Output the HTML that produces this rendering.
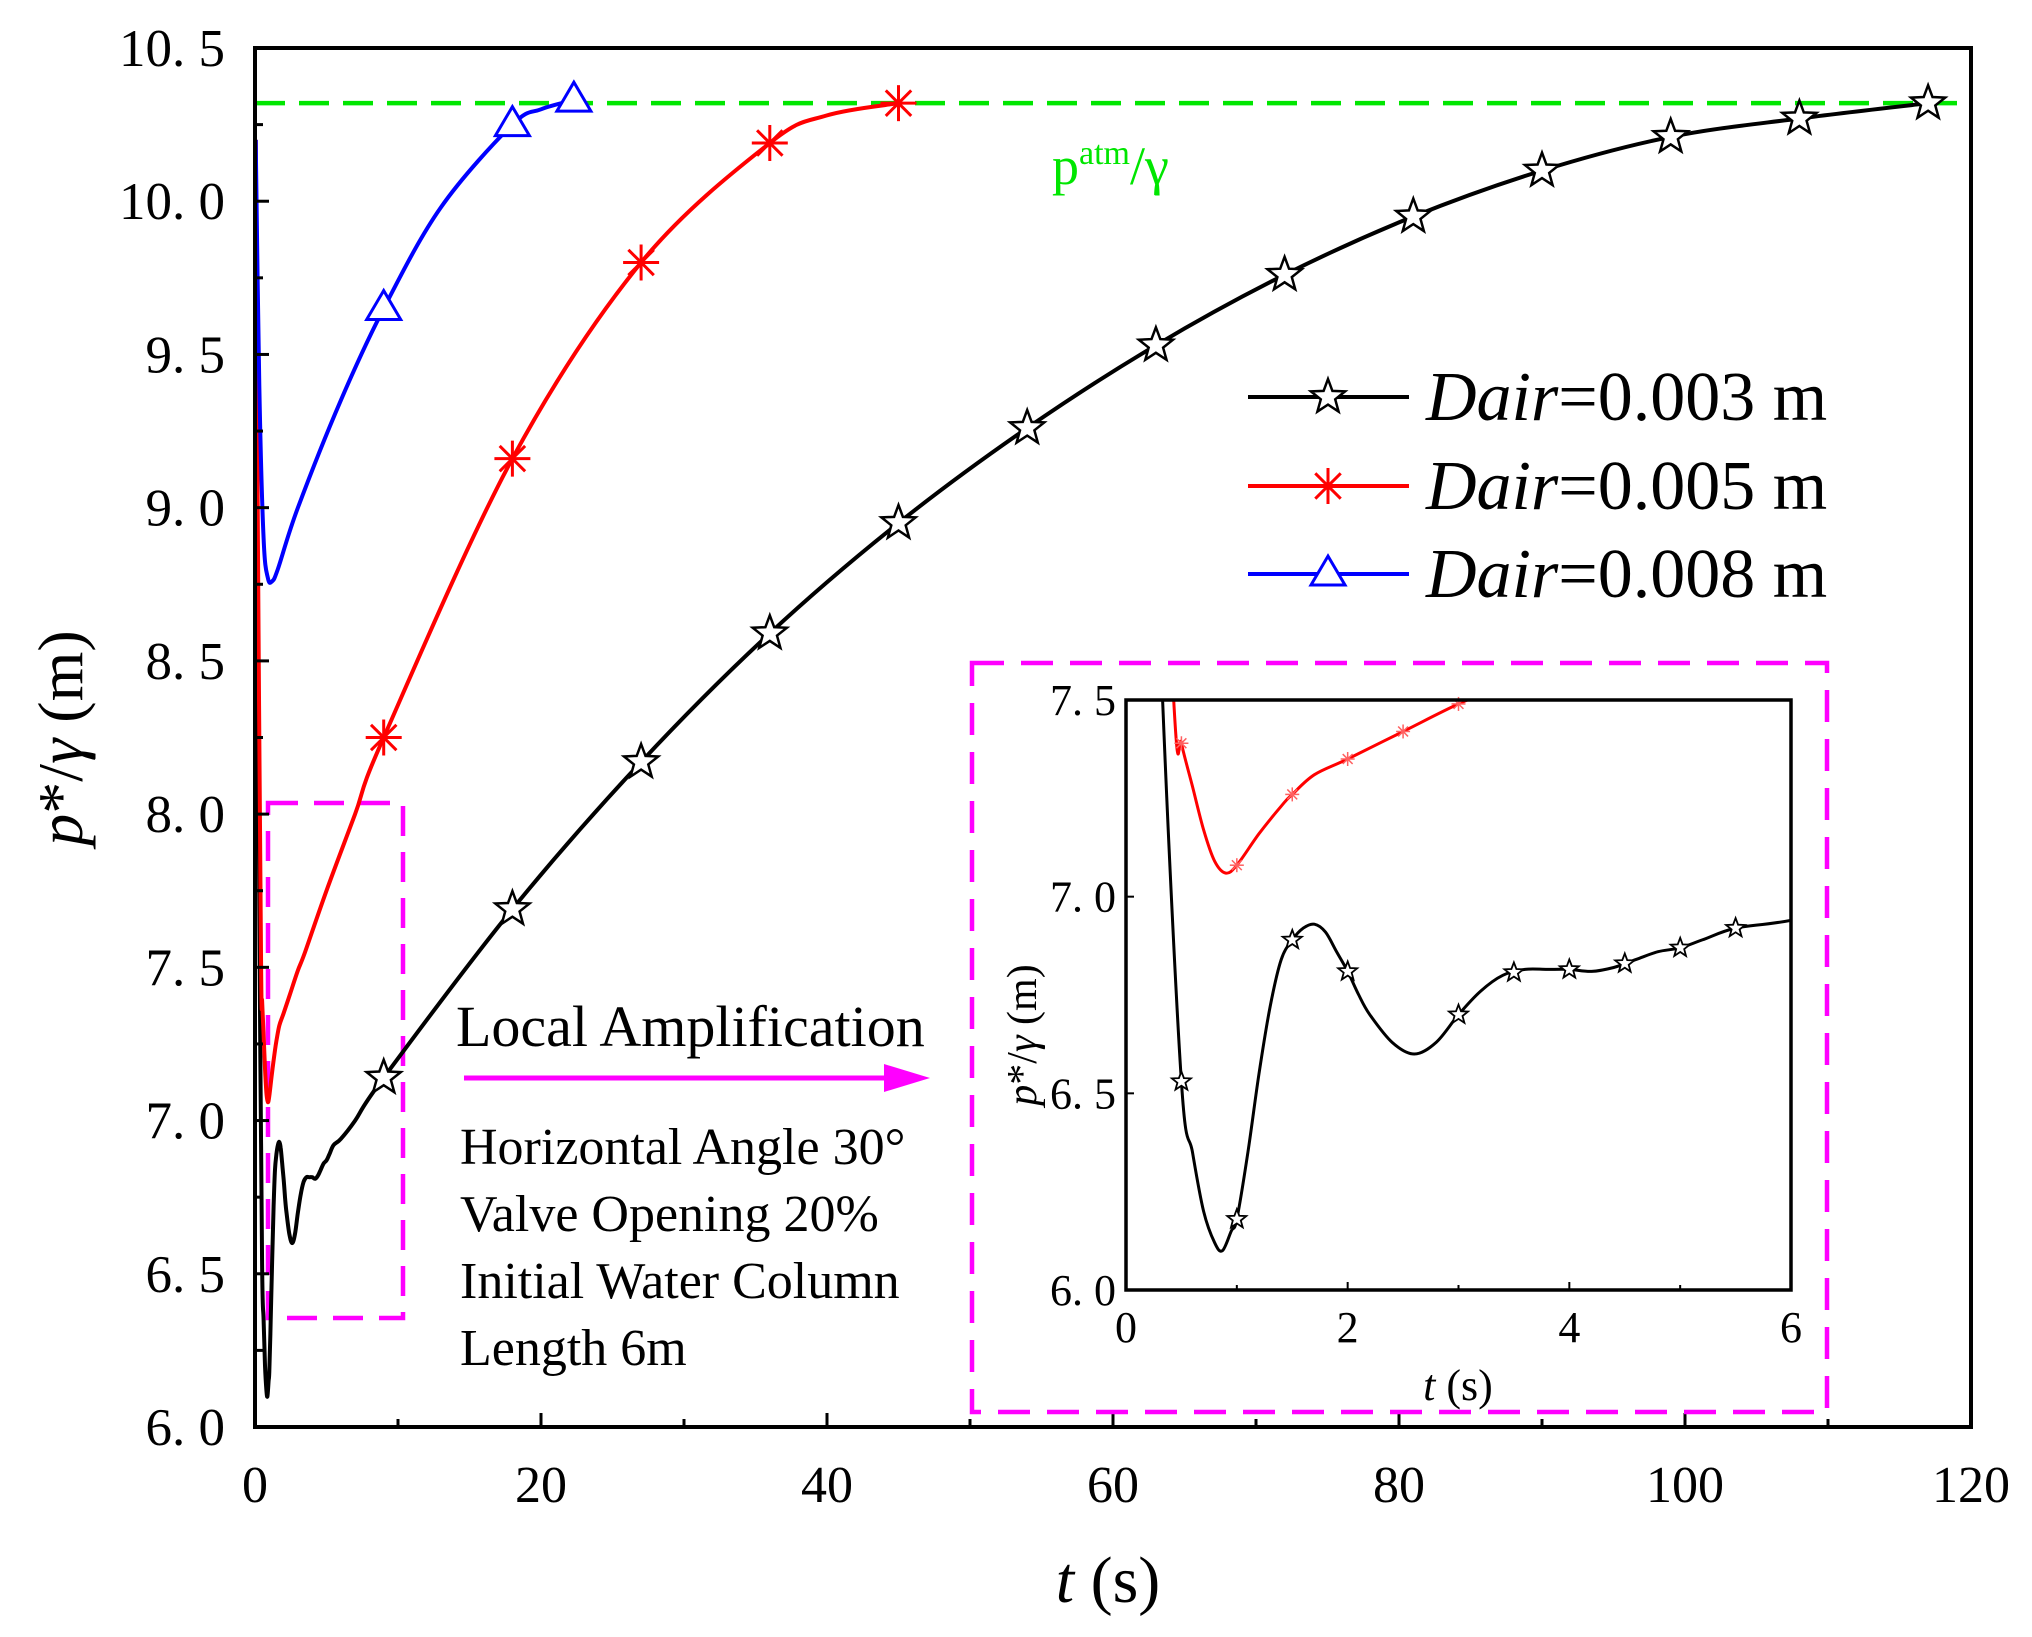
<!DOCTYPE html>
<html><head><meta charset="utf-8"><style>
html,body{margin:0;padding:0;background:#fff;}
svg{display:block;font-family:"Liberation Serif",serif;}
</style></head><body>
<svg id="chart" width="2032" height="1637" viewBox="0 0 2032 1637" xmlns="http://www.w3.org/2000/svg">
<rect x="0" y="0" width="2032" height="1637" fill="#fff"/>
<g id="main"></g>
<g id="inset"></g>
</svg>
<script>
// ---- data ----
const blackT = [0.05,0.2,0.33,0.5,0.6,0.7,0.8,0.87,0.95,1.0,1.1,1.2,1.3,1.4,1.5,1.6,1.7,1.8,1.9,2.0,2.1,2.2,2.4,2.6,2.8,3.0,3.2,3.4,3.6,3.8,4.0,4.2,4.4,4.6,4.8,5.0,5.2,5.5,6.0,7.0,9,18,27,36,45,54,63,72,81,90,99,108,117];
const blackP = [10.2,8.6,7.5,6.53,6.35,6.2,6.12,6.1,6.15,6.18,6.35,6.55,6.72,6.84,6.89,6.92,6.93,6.91,6.86,6.81,6.75,6.70,6.63,6.60,6.63,6.70,6.76,6.80,6.815,6.815,6.815,6.81,6.82,6.84,6.86,6.87,6.89,6.92,6.94,7.0,7.14,7.69,8.17,8.59,8.95,9.26,9.53,9.76,9.95,10.10,10.21,10.27,10.32];
const redT = [0.05,0.2,0.43,0.5,0.6,0.7,0.8,0.9,1.0,1.2,1.4,1.5,1.7,2.0,2.5,3.0,3.5,5,7,9,18,27,36,40,45];
const redP = [10.2,8.9,7.5,7.39,7.28,7.17,7.09,7.06,7.08,7.16,7.23,7.26,7.31,7.35,7.42,7.49,7.55,7.75,8.0,8.25,9.16,9.80,10.19,10.28,10.32];
const blueT = [0.05,0.3,0.6,0.9,1.2,1.6,3,6,9,13,18,20,22.3];
const blueP = [10.2,9.4,8.9,8.77,8.76,8.8,9.0,9.35,9.65,9.98,10.25,10.3,10.33];
const blackMarkT = [9,18,27,36,45,54,63,72,81,90,99,108,117];
const redMarkT = [9,18,27,36,45];
const blueMarkT = [9,18,22.3];
const insetBlackMarkT = [0.5,1.0,1.5,2.0,3.0,3.5,4.0,4.5,5.0,5.5];
const insetRedMarkT = [0.5,1.0,1.5,2.0,2.5,3.0];
const atmP = 10.32;
const xTicks = [0,20,40,60,80,100,120];
const xTickLabels = ["0","20","40","60","80","100","120"];
const yTicks = [6,6.5,7,7.5,8,8.5,9,9.5,10,10.5];
const yTickLabels = ["6. 0","6. 5","7. 0","7. 5","8. 0","8. 5","9. 0","9. 5","10. 0","10. 5"];
const insetXTicks = [0,2,4,6];
const insetXTickLabels = ["0","2","4","6"];
const insetYTicks = [6,6.5,7,7.5];
const insetYTickLabels = ["6. 0","6. 5","7. 0","7. 5"];

const NS="http://www.w3.org/2000/svg";
function mk(parent,tag,attrs){const e=document.createElementNS(NS,tag);for(const k in attrs)e.setAttribute(k,attrs[k]);parent.appendChild(e);return e;}
function interp(T,P,t){for(let i=0;i<T.length-1;i++){if(t>=T[i]&&t<=T[i+1]){const f=(t-T[i])/(T[i+1]-T[i]);return P[i]+f*(P[i+1]-P[i]);}}return P[P.length-1];}
function smoothPath(pts){let d="M"+pts[0][0].toFixed(1)+","+pts[0][1].toFixed(1);
 for(let i=0;i<pts.length-1;i++){const p0=pts[Math.max(i-1,0)],p1=pts[i],p2=pts[i+1],p3=pts[Math.min(i+2,pts.length-1)];
  const c1x=p1[0]+(p2[0]-p0[0])/6,c1y=p1[1]+(p2[1]-p0[1])/6,c2x=p2[0]-(p3[0]-p1[0])/6,c2y=p2[1]-(p3[1]-p1[1])/6;
  d+=" C"+c1x.toFixed(1)+","+c1y.toFixed(1)+" "+c2x.toFixed(1)+","+c2y.toFixed(1)+" "+p2[0].toFixed(1)+","+p2[1].toFixed(1);}
 return d;}
function star(g,cx,cy,r,sw){let pts=[];for(let i=0;i<10;i++){const a=-Math.PI/2+i*Math.PI/5,rr=i%2?r*0.42:r;pts.push((cx+rr*Math.cos(a)).toFixed(1)+","+(cy+rr*Math.sin(a)).toFixed(1));}
 return mk(g,"polygon",{points:pts.join(" "),fill:"#fff",stroke:"#000","stroke-width":sw});}
function asterisk(g,cx,cy,r,col,sw){const grp=mk(g,"g",{stroke:col,"stroke-width":sw});
 for(let i=0;i<4;i++){const a=i*Math.PI/4;mk(grp,"line",{x1:cx-r*Math.cos(a),y1:cy-r*Math.sin(a),x2:cx+r*Math.cos(a),y2:cy+r*Math.sin(a)});}return grp;}
function tri(g,cx,cy,r){const h=r*1.7;return mk(g,"polygon",{points:`${cx},${cy-h*0.62} ${cx-r},${cy+h*0.38} ${cx+r},${cy+h*0.38}`,fill:"#fff",stroke:"#0000ff","stroke-width":3});}

// ---- main axes ----
const X0=255,X1=1971,Y0=1427,Y1=48;
const xs=t=>X0+(t-0)/(120-0)*(X1-X0);
const ys=p=>Y0-(p-6)/(10.5-6)*(Y0-Y1);
const main=document.getElementById("main");
const mcp=mk(main,"clipPath",{id:"mclip"});mk(mcp,"rect",{x:X0,y:Y1,width:X1-X0,height:Y0-Y1});

let atm=mk(main,"line",{x1:X0,x2:X1,y1:ys(atmP),y2:ys(atmP),stroke:"#00e600","stroke-width":4.5,"stroke-dasharray":"30 14"});


let atmT=mk(main,"text",{x:1052,y:184,fill:"#00e600","font-size":54});
atmT.innerHTML='p<tspan dy="-20" font-size="34">atm</tspan><tspan dy="20">/γ</tspan>';



let sb=mk(main,"rect",{x:268,y:803,width:135,height:515,fill:"none",stroke:"#ff00ff","stroke-width":4.5,"stroke-dasharray":"30 16"});



const series=[{T:blackT,P:blackP,col:"#000",m:blackMarkT,type:"star",name:"black"},
{T:redT,P:redP,col:"#ff0000",m:redMarkT,type:"ast",name:"red"},
{T:blueT,P:blueP,col:"#0000ff",m:blueMarkT,type:"tri",name:"blue"}];
const names={black:"series-dair-0.003",red:"series-dair-0.005",blue:"series-dair-0.008"};
series.forEach(s=>{
 const pts=s.T.map((t,i)=>[xs(t),ys(s.P[i])]);
 let p=mk(main,"path",{d:smoothPath(pts),fill:"none",stroke:s.col,"stroke-width":4,"clip-path":"url(#mclip)"});
 
 
});
series.forEach(s=>{
 s.m.forEach(t=>{const cx=xs(t),cy=ys(interp(s.T,s.P,t));let e;
  if(s.type==="star")e=star(main,cx,cy,18,2.5);else if(s.type==="ast")e=asterisk(main,cx,cy,18,s.col,3);else e=tri(main,cx,cy,17);
  
  });
});

let fr=mk(main,"rect",{x:X0,y:Y1,width:X1-X0,height:Y0-Y1,fill:"none",stroke:"#000","stroke-width":4});


xTicks.forEach((t,i)=>{
 mk(main,"line",{x1:xs(t),x2:xs(t),y1:Y0,y2:Y0-14,stroke:"#000","stroke-width":3});
 if(i<xTicks.length-1){const m=(t+xTicks[i+1])/2;mk(main,"line",{x1:xs(m),x2:xs(m),y1:Y0,y2:Y0-8,stroke:"#000","stroke-width":3});}
 let l=mk(main,"text",{x:xs(t),y:1502,"font-size":52,"text-anchor":"middle"});l.textContent=xTickLabels[i];
 
 
});
yTicks.forEach((p,i)=>{
 mk(main,"line",{x1:X0,x2:X0+14,y1:ys(p),y2:ys(p),stroke:"#000","stroke-width":3});
 if(i<yTicks.length-1){const m=(p+yTicks[i+1])/2;mk(main,"line",{x1:X0,x2:X0+8,y1:ys(m),y2:ys(m),stroke:"#000","stroke-width":3});}
 let l=mk(main,"text",{x:225,y:ys(p)+18,"font-size":53,"text-anchor":"end"});l.textContent=yTickLabels[i];
 
 
});
let xt=mk(main,"text",{x:1108,y:1602,"font-size":66,"text-anchor":"middle"});
xt.innerHTML='<tspan font-style="italic">t</tspan> (s)';


let yt=mk(main,"text",{x:0,y:0,"font-size":64,"text-anchor":"middle",transform:"translate(82,738) rotate(-90)"});
yt.innerHTML='<tspan font-style="italic">p</tspan>*/<tspan font-style="italic">γ</tspan> (m)';



const legLabels=["=0.003 m","=0.005 m","=0.008 m"];
const legY=[397,486,574];
series.forEach((s,i)=>{
 const g=mk(main,"g",{});
 
 
 mk(g,"line",{x1:1248,x2:1409,y1:legY[i],y2:legY[i],stroke:s.col,"stroke-width":4});
 if(s.type==="star")star(g,1328,legY[i],18,2.5);else if(s.type==="ast")asterisk(g,1328,legY[i],18,s.col,3);else tri(g,1328,legY[i],17);
 const t=mk(g,"text",{x:1426,y:legY[i]+23,"font-size":70});
 t.innerHTML='<tspan font-style="italic">Dair</tspan>'+legLabels[i];
});

const ann=mk(main,"g",{});


let la=mk(ann,"text",{x:456,y:1046,"font-size":58});la.textContent="Local Amplification";
mk(ann,"line",{x1:464,x2:900,y1:1078,y2:1078,stroke:"#ff00ff","stroke-width":5});
mk(ann,"polygon",{points:"930,1078 884,1064 884,1092",fill:"#ff00ff"});
["Horizontal Angle 30°","Valve Opening 20%","Initial Water Column","Length 6m"].forEach((s,i)=>{
 const t=mk(ann,"text",{x:460,y:1164+i*67,"font-size":52});t.textContent=s;});

// ---- inset ----
const inset=document.getElementById("inset");
let ib=mk(inset,"rect",{x:972,y:663,width:855,height:749,fill:"#fff",stroke:"#ff00ff","stroke-width":4.5,"stroke-dasharray":"32 17"});


const IX0=1126,IX1=1791,IY0=1290,IY1=700;
const ixs=t=>IX0+(t-0)/(6-0)*(IX1-IX0);
const iys=p=>IY0-(p-6)/(7.5-6)*(IY0-IY1);
const cp=mk(inset,"clipPath",{id:"iclip"});mk(cp,"rect",{x:IX0,y:IY1,width:IX1-IX0,height:IY0-IY1});
series.slice(0,2).forEach(s=>{
 const pts=[];s.T.forEach((t,i)=>{if(t<=7)pts.push([ixs(t),iys(s.P[i])]);});
 let p=mk(inset,"path",{d:smoothPath(pts),fill:"none",stroke:s.col,"stroke-width":3,"clip-path":"url(#iclip)"});
 
 
});
insetBlackMarkT.forEach(t=>{let e=star(inset,ixs(t),iys(interp(blackT,blackP,t)),10,1.8);
 
 });
insetRedMarkT.forEach(t=>{let e=asterisk(inset,ixs(t),iys(interp(redT,redP,t)),7,"#ff6060",1.5);
 
 });
let ifr=mk(inset,"rect",{x:IX0,y:IY1,width:IX1-IX0,height:IY0-IY1,fill:"none",stroke:"#000","stroke-width":3.5});


insetXTicks.forEach((t,i)=>{
 mk(inset,"line",{x1:ixs(t),x2:ixs(t),y1:IY0,y2:IY0-8,stroke:"#000","stroke-width":2});
 if(i<insetXTicks.length-1){const m=(t+insetXTicks[i+1])/2;mk(inset,"line",{x1:ixs(m),x2:ixs(m),y1:IY0,y2:IY0-5,stroke:"#000","stroke-width":2});}
 let l=mk(inset,"text",{x:ixs(t),y:1342,"font-size":44,"text-anchor":"middle"});l.textContent=insetXTickLabels[i];
 
 
});
insetYTicks.forEach((p,i)=>{
 mk(inset,"line",{x1:IX0,x2:IX0+8,y1:iys(p),y2:iys(p),stroke:"#000","stroke-width":2});
 let l=mk(inset,"text",{x:1116,y:iys(p)+15,"font-size":44,"text-anchor":"end"});l.textContent=insetYTickLabels[i];
 
 
});
let ixt=mk(inset,"text",{x:1458,y:1400,"font-size":44,"text-anchor":"middle"});
ixt.innerHTML='<tspan font-style="italic">t</tspan> (s)';


let iyt=mk(inset,"text",{x:0,y:0,"font-size":42,"text-anchor":"middle",transform:"translate(1036,1035) rotate(-90)"});
iyt.innerHTML='<tspan font-style="italic">p</tspan>*/<tspan font-style="italic">γ</tspan> (m)';


</script>
</body></html>
